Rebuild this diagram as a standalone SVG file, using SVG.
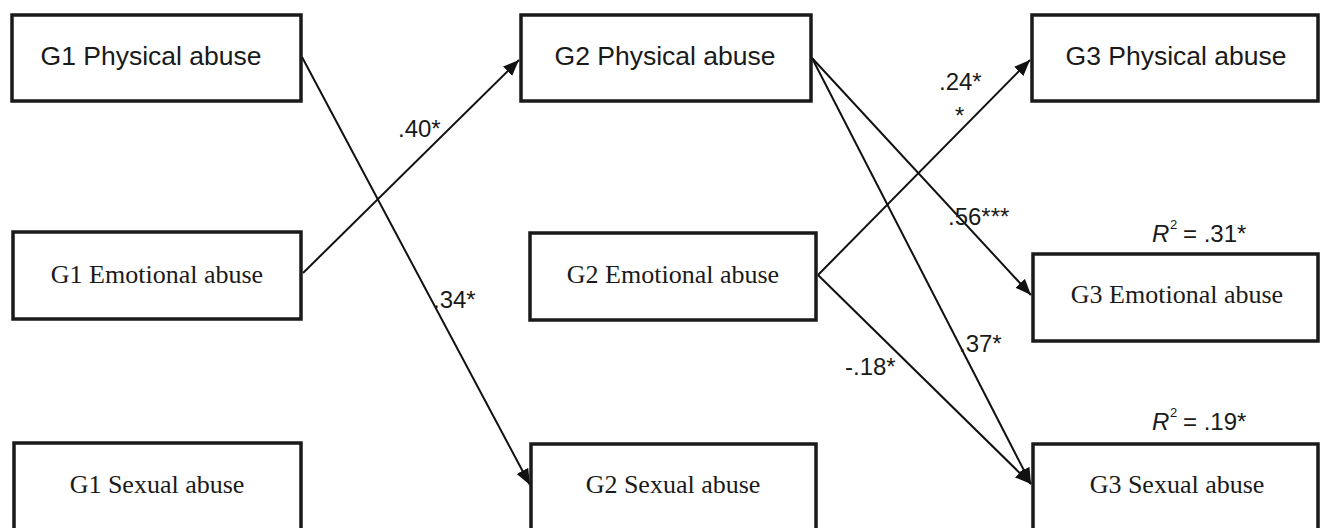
<svg xmlns="http://www.w3.org/2000/svg" width="1322" height="528" viewBox="0 0 1322 528">
<style>
.box{fill:#fff;stroke:#1a1a1a;stroke-width:3.5}
.sans{font-family:"Liberation Sans",Arial,sans-serif;font-size:26.5px;fill:#1a1a1a;text-anchor:middle}
.serif{font-family:"Liberation Serif","Times New Roman",serif;font-size:26px;fill:#1a1a1a;text-anchor:middle}
.lbl{font-family:"Liberation Sans",Arial,sans-serif;font-size:24px;fill:#1a1a1a}
.sup{font-family:"Liberation Sans",Arial,sans-serif;font-size:13px;fill:#1a1a1a}
.edge{stroke:#111;stroke-width:2;fill:none;marker-end:url(#ah)}
</style>
<defs>
<marker id="ah" markerUnits="userSpaceOnUse" markerWidth="17" markerHeight="13" refX="16" refY="6.5" orient="auto">
<path d="M0,0 L16,6.5 L0,13 z" fill="#111"/>
</marker>
</defs>
<rect width="1322" height="528" fill="#fff"/>
<g id="connectors">
<line class="edge" x1="302" y1="57" x2="530" y2="485"/>
<line class="edge" x1="303" y1="273" x2="519" y2="60"/>
<line class="edge" x1="812" y1="58" x2="1031" y2="295"/>
<line class="edge" x1="812" y1="58" x2="1031" y2="484"/>
<line class="edge" x1="818" y1="275" x2="1030" y2="60"/>
<line class="edge" x1="818" y1="275" x2="1031" y2="484"/>
</g>
<g id="labels">
<text class="lbl" x="398" y="137">.40*</text>
<text class="lbl" x="433" y="308">.34*</text>
<text class="lbl" x="939" y="90">.24*</text>
<text class="lbl" x="955" y="124">*</text>
<text class="lbl" x="948" y="225">.56***</text>
<text class="lbl" x="959" y="352">.37*</text>
<text class="lbl" x="845" y="375">-.18*</text>
</g>
<g id="n-g1-phys"><rect class="box" x="12" y="15" width="289" height="86"/><text class="sans" x="151" y="65">G1 Physical abuse</text></g>
<g id="n-g2-phys"><rect class="box" x="521" y="15" width="290" height="86"/><text class="sans" x="665" y="65">G2 Physical abuse</text></g>
<g id="n-g3-phys"><rect class="box" x="1032" y="15" width="286" height="86"/><text class="sans" x="1176" y="65">G3 Physical abuse</text></g>
<g id="n-g1-emo"><rect class="box" x="13" y="232" width="288" height="87"/><text class="serif" x="157" y="283">G1 Emotional abuse</text></g>
<g id="n-g2-emo"><rect class="box" x="530" y="233" width="286" height="87"/><text class="serif" x="673" y="283">G2 Emotional abuse</text></g>
<g id="n-g3-emo"><rect class="box" x="1033" y="254" width="285" height="87"/><text class="serif" x="1177" y="303">G3 Emotional abuse</text>
<text class="lbl" x="1152" y="242" font-style="italic">R</text><text class="sup" x="1170" y="229">2</text><text class="lbl" x="1183" y="242">= .31*</text></g>
<g id="n-g1-sex"><rect class="box" x="14" y="443" width="287" height="95"/><text class="serif" x="157" y="493">G1 Sexual abuse</text></g>
<g id="n-g2-sex"><rect class="box" x="531" y="444" width="285" height="95"/><text class="serif" x="673" y="493">G2 Sexual abuse</text></g>
<g id="n-g3-sex"><rect class="box" x="1033" y="444" width="285" height="95"/><text class="serif" x="1177" y="493">G3 Sexual abuse</text>
<text class="lbl" x="1152" y="430" font-style="italic">R</text><text class="sup" x="1170" y="417">2</text><text class="lbl" x="1183" y="430">= .19*</text></g>
</svg>
